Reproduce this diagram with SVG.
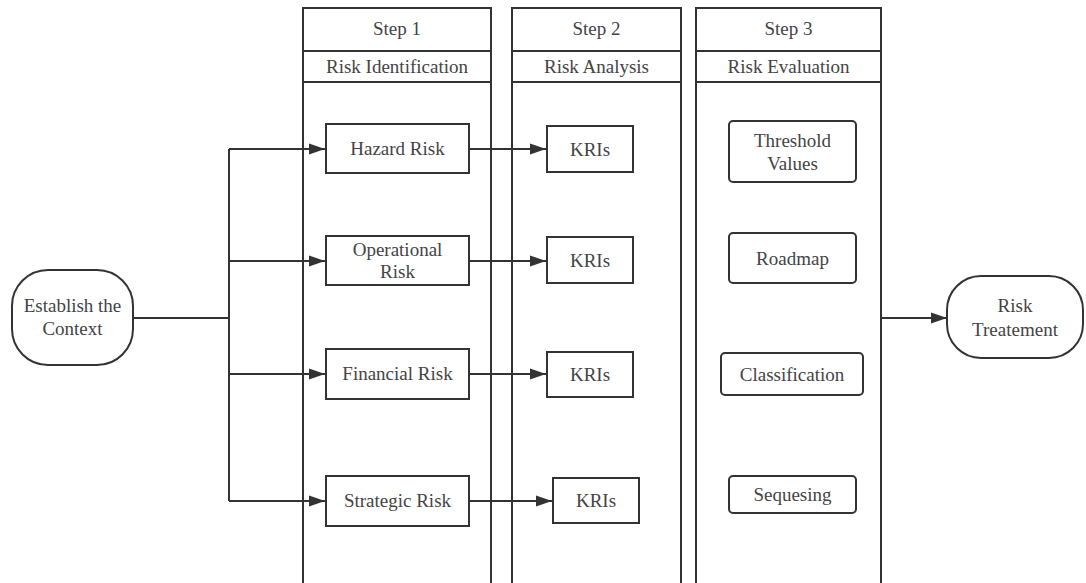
<svg xmlns="http://www.w3.org/2000/svg" width="1086" height="583" viewBox="0 0 1086 583">
  <style>
    .shape { fill: #ffffff; stroke: #333333; stroke-width: 2; }
    .lane { fill: none; stroke: #333333; stroke-width: 2; }
    .wire { fill: none; stroke: #333333; stroke-width: 2; }
    .label { font-family: 'Liberation Serif', 'Times New Roman', Times, serif; font-size: 19px; fill: #444444; text-anchor: middle; }
  </style>
  <defs>
    <marker id="arrow" markerUnits="userSpaceOnUse" markerWidth="18" markerHeight="14" refX="16" refY="7" orient="auto">
      <path d="M0,1.5 L16,7 L0,12.5 Z" fill="#333333"/>
    </marker>
  </defs>
  <rect width="1086" height="583" fill="#ffffff"/>

  <!-- Swimlane columns -->
  <g id="lane-step1">
    <rect class="lane" x="303" y="8" width="188" height="580"/>
    <line class="lane" x1="303" y1="51" x2="491" y2="51"/>
    <line class="lane" x1="303" y1="82" x2="491" y2="82"/>
    <text class="label" x="397" y="35">Step 1</text>
    <text class="label" x="397" y="73">Risk Identification</text>
  </g>
  <g id="lane-step2">
    <rect class="lane" x="512" y="8" width="169" height="580"/>
    <line class="lane" x1="512" y1="51" x2="681" y2="51"/>
    <line class="lane" x1="512" y1="82" x2="681" y2="82"/>
    <text class="label" x="596.5" y="35">Step 2</text>
    <text class="label" x="596.5" y="73">Risk Analysis</text>
  </g>
  <g id="lane-step3">
    <rect class="lane" x="696" y="8" width="185" height="580"/>
    <line class="lane" x1="696" y1="51" x2="881" y2="51"/>
    <line class="lane" x1="696" y1="82" x2="881" y2="82"/>
    <text class="label" x="788.5" y="35">Step 3</text>
    <text class="label" x="788.5" y="73">Risk Evaluation</text>
  </g>

  <!-- Connectors -->
  <g id="connectors">
    <line class="wire" x1="133" y1="318" x2="229" y2="318"/>
    <line class="wire" x1="229" y1="149" x2="229" y2="501"/>
    <line class="wire" x1="229" y1="149" x2="325" y2="149" marker-end="url(#arrow)"/>
    <line class="wire" x1="229" y1="261" x2="325" y2="261" marker-end="url(#arrow)"/>
    <line class="wire" x1="229" y1="374" x2="325" y2="374" marker-end="url(#arrow)"/>
    <line class="wire" x1="229" y1="501" x2="325" y2="501" marker-end="url(#arrow)"/>
    <line class="wire" x1="469" y1="149" x2="546" y2="149" marker-end="url(#arrow)"/>
    <line class="wire" x1="469" y1="261" x2="546" y2="261" marker-end="url(#arrow)"/>
    <line class="wire" x1="469" y1="374" x2="546" y2="374" marker-end="url(#arrow)"/>
    <line class="wire" x1="469" y1="501" x2="552" y2="501" marker-end="url(#arrow)"/>
    <line class="wire" x1="881" y1="318" x2="947" y2="318" marker-end="url(#arrow)"/>
  </g>

  <!-- Start / end terminals -->
  <g id="establish-context">
    <rect class="shape" x="12" y="270" width="121" height="95" rx="36" ry="36"/>
    <text class="label" x="72.5" y="312">Establish the</text>
    <text class="label" x="72.5" y="335">Context</text>
  </g>
  <g id="risk-treatment">
    <rect class="shape" x="947" y="276" width="136" height="82" rx="34" ry="34"/>
    <text class="label" x="1015" y="312">Risk</text>
    <text class="label" x="1015" y="336">Treatement</text>
  </g>

  <!-- Step 1: risk categories -->
  <g id="hazard-risk">
    <rect class="shape" x="326" y="124" width="143" height="49"/>
    <text class="label" x="397.5" y="155">Hazard Risk</text>
  </g>
  <g id="operational-risk">
    <rect class="shape" x="326" y="236" width="143" height="49"/>
    <text class="label" x="397.5" y="256">Operational</text>
    <text class="label" x="397.5" y="278">Risk</text>
  </g>
  <g id="financial-risk">
    <rect class="shape" x="326" y="349" width="143" height="50"/>
    <text class="label" x="397.5" y="380">Financial Risk</text>
  </g>
  <g id="strategic-risk">
    <rect class="shape" x="326" y="476" width="143" height="50"/>
    <text class="label" x="397.5" y="507">Strategic Risk</text>
  </g>

  <!-- Step 2: indicators -->
  <g id="kris-1">
    <rect class="shape" x="547" y="126" width="86" height="46"/>
    <text class="label" x="590" y="155.5">KRIs</text>
  </g>
  <g id="kris-2">
    <rect class="shape" x="547" y="237" width="86" height="46"/>
    <text class="label" x="590" y="266.5">KRIs</text>
  </g>
  <g id="kris-3">
    <rect class="shape" x="547" y="352" width="86" height="45"/>
    <text class="label" x="590" y="381">KRIs</text>
  </g>
  <g id="kris-4">
    <rect class="shape" x="553" y="478" width="86" height="45"/>
    <text class="label" x="596" y="507">KRIs</text>
  </g>

  <!-- Step 3: evaluation items -->
  <g id="threshold-values">
    <rect class="shape" x="729" y="121" width="127" height="61" rx="4" ry="4"/>
    <text class="label" x="792.5" y="147">Threshold</text>
    <text class="label" x="792.5" y="170">Values</text>
  </g>
  <g id="roadmap">
    <rect class="shape" x="729" y="233" width="127" height="50" rx="4" ry="4"/>
    <text class="label" x="792.5" y="265">Roadmap</text>
  </g>
  <g id="classification">
    <rect class="shape" x="721" y="353" width="142" height="42" rx="4" ry="4"/>
    <text class="label" x="792" y="381">Classification</text>
  </g>
  <g id="sequesing">
    <rect class="shape" x="729" y="476" width="127" height="37" rx="4" ry="4"/>
    <text class="label" x="792.5" y="501">Sequesing</text>
  </g>
</svg>
